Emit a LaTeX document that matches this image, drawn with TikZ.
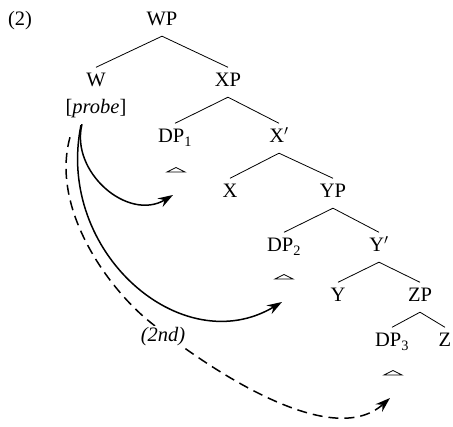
\documentclass[tikz,border=0pt]{standalone}
\usepackage{fontspec}
\setmainfont{Liberation Serif}
\usetikzlibrary{arrows.meta}
\begin{document}
\begin{tikzpicture}[x=1pt,y=-1pt,font=\fontsize{20.5}{24}\selectfont,
  cat/.style={anchor=base,text height=14pt,text depth=4.5pt,inner xsep=1pt,inner ysep=5.5pt},
  branch/.style={line width=0.8pt},
  roof/.style={line width=0.8pt},
  mv/.style={line width=1.5pt,-{Stealth[length=15pt,width=10pt,inset=5pt]}},
  mvdash/.style={mv,dash pattern=on 10pt off 6pt}]
\useasboundingbox (0,0) rectangle (453,427);
% nodes
\node[cat] (ex) at (20,26) {(2)};
\node[cat] (wp) at (162,26) {WP};
\node[cat] (w) at (96,87) {W};
\node[cat] (xp) at (228,87) {XP};
\node[cat] (probe) at (96,114) {[\textit{probe}]};
\node[cat] (dp1) at (175,143) {DP\textsubscript{1}};
\node[cat] (xbar) at (279,143) {X$'$};
\node[cat] (x) at (230,198) {X};
\node[cat] (yp) at (333,198) {YP};
\node[cat] (dp2) at (284,252) {DP\textsubscript{2}};
\node[cat] (ybar) at (379,252) {Y$'$};
\node[cat] (y) at (338,302) {Y};
\node[cat] (zp) at (420,302) {ZP};
\node[cat] (dp3) at (392,347) {DP\textsubscript{3}};
\node[cat] (z) at (445,347) {Z};
% branches
\draw[branch] (wp.south) -- (w.north);
\draw[branch] (wp.south) -- (xp.north);
\draw[branch] (xp.south) -- (dp1.north);
\draw[branch] (xp.south) -- (xbar.north);
\draw[branch] (xbar.south) -- (x.north);
\draw[branch] (xbar.south) -- (yp.north);
\draw[branch] (yp.south) -- (dp2.north);
\draw[branch] (yp.south) -- (ybar.north);
\draw[branch] (ybar.south) -- (y.north);
\draw[branch] (ybar.south) -- (zp.north);
\draw[branch] (zp.south) -- (dp3.north);
\draw[branch] (zp.south) -- (z.north);
% roofs
\coordinate (tri1) at (176,172);
\coordinate (tri2) at (284,279);
\coordinate (tri3) at (393,375);
\foreach \t in {tri1,tri2,tri3}
  \draw[roof] (\t) ++(-9,0) -- ++(9,-4.5) -- ++(9,4.5) -- cycle;
% arrow targets
\coordinate (a1) at (173,195);
\coordinate (a2) at (282,302);
\coordinate (a3) at (390,398);
% arrows
\draw[mv] ([xshift=-14pt]probe.south) .. controls (70,172) and (128,222) .. (a1);
\draw[mv] ([xshift=-15pt,yshift=-1pt]probe.south) .. controls (55,252) and (182,362) .. (a2);
\draw[mvdash] ([xshift=-26pt,yshift=-13pt]probe.south) .. controls (50,210) and (110,290) .. (150,322)
   .. controls (205,366) and (330,452) .. (a3);
\node[anchor=base,fill=white,inner sep=1.5pt] (second) at (163,342) {\textit{(2nd)}};
\end{tikzpicture}
\end{document}
